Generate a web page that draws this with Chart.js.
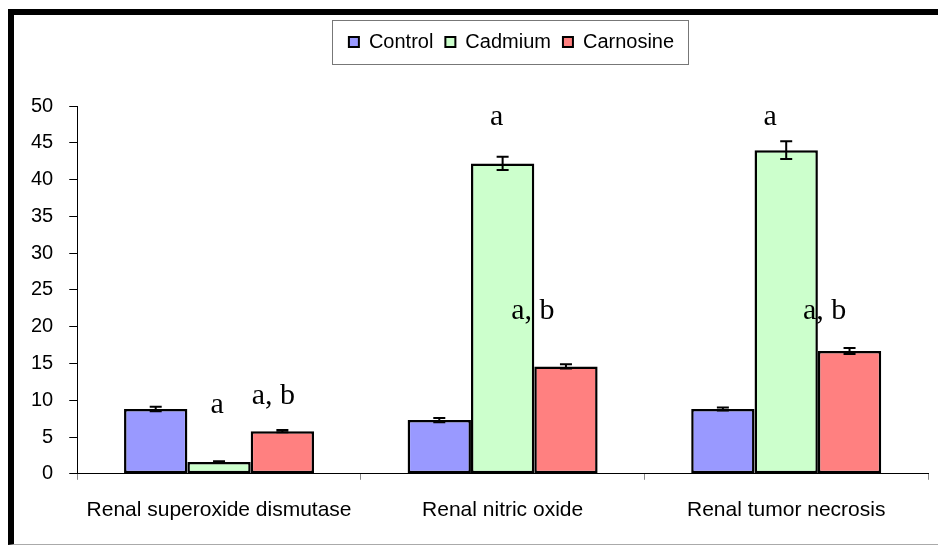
<!DOCTYPE html>
<html>
<head>
<meta charset="utf-8">
<script src="https://cdn.jsdelivr.net/npm/chart.js@4"></script>
<style>
  html, body { margin: 0; padding: 0; background: #fff; }
  #wrap { position: relative; width: 938px; height: 546px; overflow: hidden; }
  #frame { position: absolute; left: 8px; top: 9px; width: 960px; height: 529px;
           border-top: 6px solid #000; border-left: 6px solid #000; border-bottom: 1px solid #aaa;
           pointer-events: none; }
  canvas { position: absolute; left: 0; top: 0; }
</style>
</head>
<body>
<div id="wrap">
  <canvas id="myChart" width="938" height="546"></canvas>
  <div id="frame"></div>
</div>
<script>
const categories = ['Renal superoxide dismutase', 'Renal nitric oxide', 'Renal tumor necrosis'];
const seriesNames = ['Control', 'Cadmium', 'Carnosine'];
const controlValues = [8.8, 7.3, 8.8];
const cadmiumValues = [1.6, 42.2, 44.0];
const carnosineValues = [5.8, 14.6, 16.7];
const controlErrors = [0.3, 0.3, 0.2];
const cadmiumErrors = [0.1, 0.9, 1.2];
const carnosineErrors = [0.15, 0.3, 0.4];
const cadmiumMarks = ['a', 'a', 'a'];
const carnosineMarks = ['a, b', 'a, b', 'a, b'];
const yMax = 50;
const yStep = 5;

const sansFont = "'Liberation Sans', Arial, sans-serif";
const legendShift = 40;

// error bars drawn on top of each bar
const errorBars = {
  id: 'errorBars',
  afterDatasetsDraw(chart) {
    const ctx = chart.ctx;
    const y = chart.scales.y;
    chart.data.datasets.forEach((ds, di) => {
      const meta = chart.getDatasetMeta(di);
      meta.data.forEach((bar, i) => {
        const v = ds.data[i];
        const e = ds.errors[i];
        const top = y.getPixelForValue(v + e);
        const bot = y.getPixelForValue(v - e);
        ctx.save();
        ctx.strokeStyle = '#000';
        ctx.lineWidth = 2;
        ctx.beginPath();
        ctx.moveTo(bar.x, top); ctx.lineTo(bar.x, bot);
        ctx.moveTo(bar.x - 6, top); ctx.lineTo(bar.x + 6, top);
        ctx.moveTo(bar.x - 6, bot); ctx.lineTo(bar.x + 6, bot);
        ctx.stroke();
        ctx.restore();
      });
    });
  }
};

// significance letters
const sigMarks = {
  id: 'sigMarks',
  afterDatasetsDraw(chart, args, opts) {
    const ctx = chart.ctx;
    const y = chart.scales.y;
    ctx.save();
    ctx.fillStyle = '#000';
    ctx.font = "30px 'Liberation Serif', 'Times New Roman', serif";
    ctx.textAlign = 'center';
    ctx.textBaseline = 'alphabetic';
    opts.sets.forEach(s => {
      const meta = chart.getDatasetMeta(s.ds);
      s.texts.forEach((t, i) => {
        const bar = meta.data[i];
        ctx.fillText(t, bar.x + s.dx[i], y.getPixelForValue(s.at[i]));
      });
    });
    ctx.restore();
  }
};

// frame around legend, extra room under it, and a small shift right
const legendBox = {
  id: 'legendBox',
  beforeInit(chart) {
    const lg = chart.legend;
    const fit = lg.fit;
    lg.fit = function () {
      fit.call(this);
      this.height += 44;
    };
    const draw = lg.draw;
    lg.draw = function () {
      const c = this.ctx;
      c.save();
      c.translate(legendShift, 0);
      draw.call(this);
      c.restore();
    };
  },
  afterDraw(chart) {
    const hb = chart.legend.legendHitBoxes;
    if (!hb || !hb.length) return;
    const minX = Math.min(...hb.map(b => b.left)) + legendShift;
    const maxX = Math.max(...hb.map(b => b.left + b.width)) + legendShift;
    const midY = hb[0].top + hb[0].height / 2;
    const ctx = chart.ctx;
    ctx.save();
    ctx.strokeStyle = '#777';
    ctx.lineWidth = 1;
    ctx.strokeRect(Math.round(minX - 17) + 0.5, Math.round(midY - 22) + 0.5, Math.round(maxX - minX + 31), 44);
    ctx.restore();
  }
};

const ctx = document.getElementById('myChart').getContext('2d');

const myChart = new Chart(ctx, {
  type: 'bar',
  data: {
    labels: categories,
    datasets: [
      { label: seriesNames[0], data: controlValues, errors: controlErrors, backgroundColor: '#9999FF' },
      { label: seriesNames[1], data: cadmiumValues, errors: cadmiumErrors, backgroundColor: '#CCFFCC' },
      { label: seriesNames[2], data: carnosineValues, errors: carnosineErrors, backgroundColor: '#FF8080' }
    ]
  },
  options: {
    responsive: false,
    animation: false,
    layout: { padding: { left: 15, right: 10, top: 20, bottom: 5 } },
    datasets: {
      bar: {
        borderColor: '#000',
        borderWidth: 2.5,
        borderSkipped: false,
        categoryPercentage: 0.67,
        barPercentage: 1.0
      }
    },
    plugins: {
      legend: {
        position: 'top',
        labels: {
          color: '#000',
          font: { family: sansFont, size: 20 },
          boxWidth: 10,
          boxHeight: 10,
          padding: 12,
          generateLabels(chart) {
            return chart.data.datasets.map((ds, i) => ({
              text: ds.label,
              fillStyle: ds.backgroundColor,
              strokeStyle: '#000',
              lineWidth: 2,
              datasetIndex: i
            }));
          }
        }
      },
      tooltip: { enabled: false },
      sigMarks: {
        sets: [
          { ds: 1, texts: cadmiumMarks, at: [8.3, 47.4, 47.4], dx: [-2, -6, -16] },
          { ds: 2, texts: carnosineMarks, at: [9.5, 21.1, 21.1], dx: [-9, -33, -25] }
        ]
      }
    },
    scales: {
      x: {
        offset: true,
        grid: { offset: true, drawOnChartArea: false, drawTicks: true, tickLength: 6, color: '#888' },
        border: { color: '#000', width: 1 },
        ticks: { color: '#000', font: { family: sansFont, size: 21 }, padding: 18, maxRotation: 0 }
      },
      y: {
        min: 0,
        max: yMax,
        grid: { drawOnChartArea: false, drawTicks: true, tickLength: 8, color: '#000' },
        border: { color: '#000', width: 1 },
        ticks: { stepSize: yStep, color: '#000', font: { family: sansFont, size: 20 }, padding: 16 }
      }
    }
  },
  plugins: [errorBars, sigMarks, legendBox]
});
</script>
</body>
</html>
